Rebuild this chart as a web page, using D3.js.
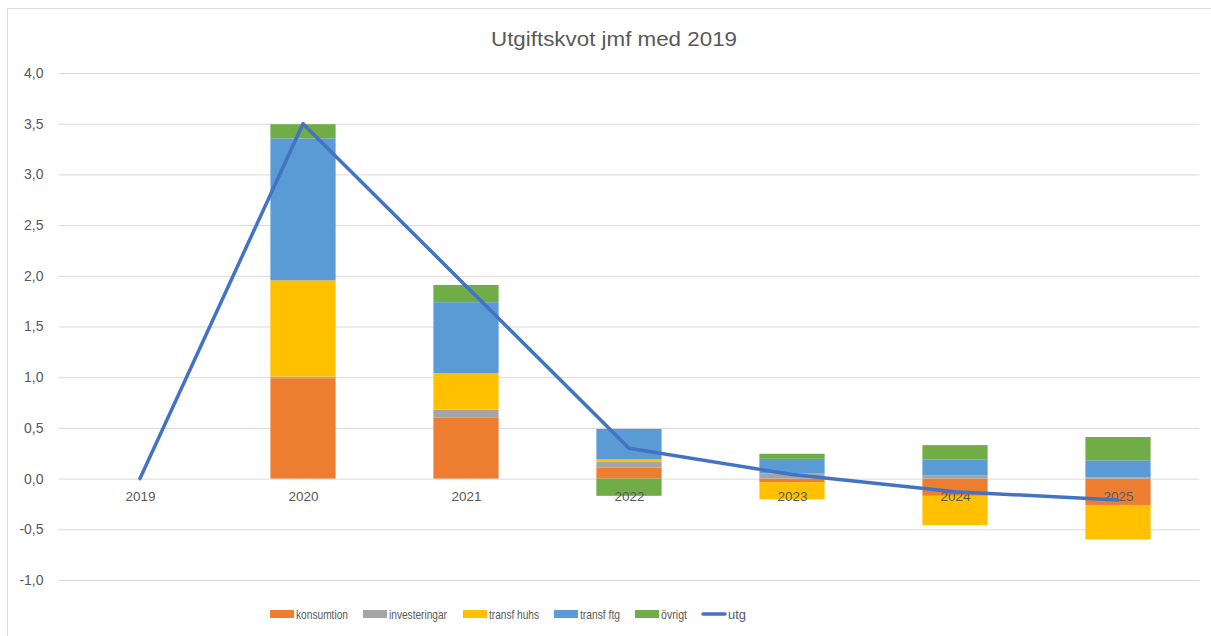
<!DOCTYPE html>
<html><head><meta charset="utf-8">
<script src="https://cdn.jsdelivr.net/npm/d3@7"></script>
<style>body{margin:0;background:#fff;} svg{display:block;font-family:"Liberation Sans","Open Sans",Arial,sans-serif;}</style>
</head><body>
<svg id="c" width="1211" height="636"></svg>
<script>
const years = ["2019","2020","2021","2022","2023","2024","2025"];
const konsumtion   = [0, 0.99, 0.60, 0.11, -0.035, -0.17, -0.26];
const investeringar= [0, 0.015, 0.08, 0.06, 0.05, 0.03, 0.01];
const transfHuhs   = [0, 0.95, 0.36, 0.02, -0.17, -0.29, -0.34];
const transfFtg    = [0, 1.40, 0.70, 0.30, 0.145, 0.16, 0.17];
const ovrigt       = [0, 0.14, 0.17, -0.17, 0.05, 0.14, 0.23];
const utg          = [0, 3.50, 1.90, 0.30, 0.04, -0.13, -0.21];
const seriesNames = ["konsumtion","investeringar","transf huhs","transf ftg","övrigt"];
const seriesVals = [konsumtion, investeringar, transfHuhs, transfFtg, ovrigt];
const colors = ["#ED7D31","#A5A5A5","#FFC000","#5B9BD5","#70AD47"];
const lineColor = "#4472C4";
const yTicks = [-1,-0.5,0,0.5,1,1.5,2,2.5,3,3.5,4];

const svg = d3.select("#c");
const W = 1211, H = 636;
svg.append("rect").attr("x",7.5).attr("y",8.5).attr("width",W+20).attr("height",H+20)
  .attr("fill","#fff").attr("stroke","#d9d9d9");

const pLeft = 58.5, pRight = 1199.5, pTop = 73, pBottom = 580;
const x = d3.scaleBand().domain(years).range([pLeft,pRight]).paddingInner(0.6).paddingOuter(0.3);
const xc = d3.scalePoint().domain(years).range([pLeft,pRight]).padding(0.5);
const y = d3.scaleLinear().domain([-1,4]).range([pBottom,pTop]);

svg.append("text").attr("x",614).attr("y",46).attr("text-anchor","middle")
  .attr("font-size",21).attr("fill","#595959")
  .attr("textLength",246).attr("lengthAdjust","spacingAndGlyphs")
  .text("Utgiftskvot jmf med 2019");

const fmt = v => d3.format(".1f")(v).replace(".",",").replace("−","-");
const yAxis = d3.axisLeft(y).tickValues(yTicks).tickSize(-(pRight-pLeft)).tickFormat(fmt);
const ga = svg.append("g").attr("transform",`translate(${pLeft},0)`).call(yAxis);
ga.select(".domain").remove();
ga.selectAll(".tick line").attr("stroke","#d9d9d9").attr("stroke-width",1);
ga.selectAll(".tick text").attr("x",-15).attr("fill","#595959").attr("font-size",14)
  .attr("font-family","Liberation Sans, Arial, sans-serif");

const data = years.map((yr,i)=>{const o={year:yr}; seriesNames.forEach((s,k)=>o[s]=seriesVals[k][i]); return o;});
const stack = d3.stack().keys(seriesNames).offset(d3.stackOffsetDiverging)(data);
svg.append("g").selectAll("g").data(stack).join("g").attr("fill",(d,i)=>colors[i])
  .selectAll("rect").data(d=>d).join("rect")
  .attr("x",d=>x(d.data.year)).attr("width",x.bandwidth())
  .attr("y",d=>y(Math.max(d[0],d[1]))).attr("height",d=>Math.abs(y(d[0])-y(d[1])));

const xAxis = d3.axisBottom(xc).tickSize(0).tickPadding(13);
const gx = svg.append("g").attr("transform",`translate(0,${y(0)})`).call(xAxis);
gx.select(".domain").remove();
gx.selectAll("text").attr("fill","#595959").attr("font-size",13.5).attr("font-family","Liberation Sans, Arial, sans-serif");

svg.append("path").datum(utg).attr("fill","none").attr("stroke",lineColor).attr("stroke-width",3.5)
  .attr("stroke-linejoin","round").attr("stroke-linecap","round")
  .attr("d", d3.line().x((d,i)=>xc(years[i])).y(d=>y(d)));

const legendItems = seriesNames.map((s,i)=>({name:s,color:colors[i],type:"rect"})).concat([{name:"utg",color:lineColor,type:"line"}]);
const lx = [270,363,463,554,635,702];
const lw = [52,58,50,40,26,18];
const ly = 614;
const lg = svg.append("g");
legendItems.forEach((it,i)=>{
  const g = lg.append("g").attr("transform",`translate(${lx[i]},${ly})`);
  if(it.type==="rect") g.append("rect").attr("x",0).attr("y",-4).attr("width",24).attr("height",8).attr("fill",it.color);
  else g.append("line").attr("x1",1).attr("x2",23).attr("y1",0).attr("y2",0).attr("stroke",it.color).attr("stroke-width",3.5).attr("stroke-linecap","round");
  g.append("text").attr("x",26).attr("y",5).attr("font-size",13.5).attr("fill","#595959")
    .attr("textLength",lw[i]).attr("lengthAdjust","spacingAndGlyphs")
    .attr("font-family","Liberation Sans, Arial, sans-serif").text(it.name);
});
</script>
</body></html>
